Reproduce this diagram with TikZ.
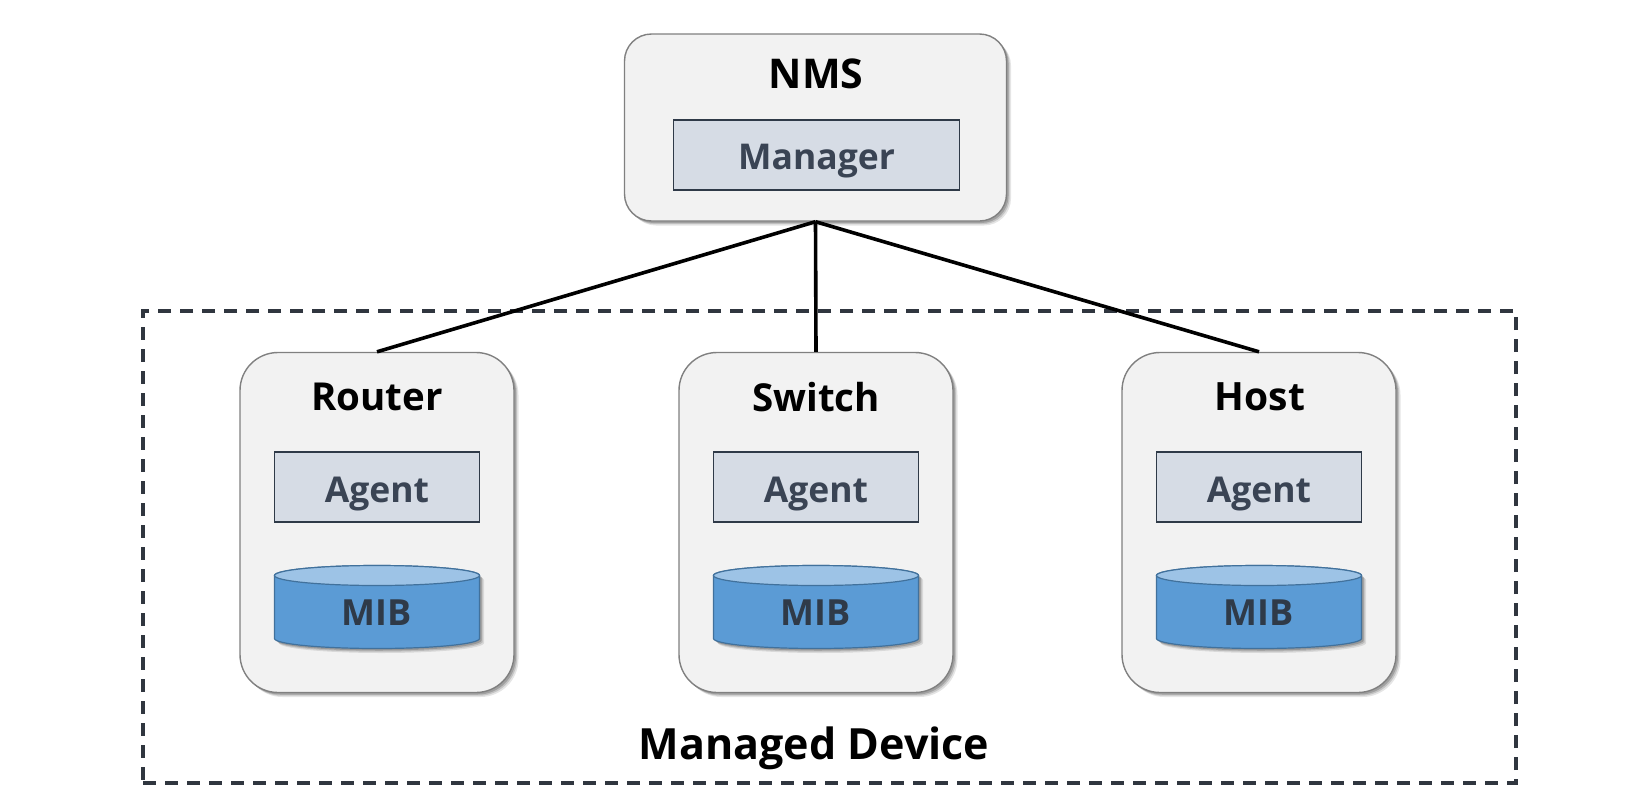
\documentclass[tikz,border=0pt]{standalone}
\usepackage{fontspec}
\setmainfont{Open Sans}
\usetikzlibrary{shapes.geometric}
\definecolor{panel}{HTML}{F2F2F2}
\definecolor{panelline}{HTML}{808080}
\definecolor{inner}{HTML}{D6DCE5}
\definecolor{navy}{HTML}{2F3A48}
\definecolor{framecol}{HTML}{30363F}
\definecolor{inktext}{HTML}{3A4454}
\definecolor{mibside}{HTML}{5B9BD5}
\definecolor{mibtop}{HTML}{9DC3E6}
\definecolor{mibline}{HTML}{41719C}
\tikzset{
  softshadow/.style={
    preaction={fill=black,fill opacity=.10,transform canvas={shift={(4.5pt,-4.5pt)}}},
    preaction={fill=black,fill opacity=.14,transform canvas={shift={(3.2pt,-3.2pt)}}},
    preaction={fill=black,fill opacity=.18,transform canvas={shift={(2pt,-2pt)}}}},
  panelbox/.style={draw=panelline,line width=1.4pt,fill=panel,softshadow,inner sep=0pt},
  nmsbox/.style={panelbox,rounded corners=27pt,minimum width=382pt,minimum height=187pt},
  devbox/.style={panelbox,rounded corners=38pt,minimum width=274pt,minimum height=340pt},
  rolebox/.style={draw=navy,line width=1.6pt,fill=inner,inner sep=0pt,minimum height=70pt},
  titletext/.style={font=\fontsize{38.5pt}{40pt}\selectfont\bfseries,text=black,inner sep=0pt},
  roletext/.style={font=\fontsize{35.5pt}{38pt}\selectfont\bfseries,text=inktext,inner sep=0pt},
  mibtext/.style={font=\fontsize{36pt}{38pt}\selectfont\bfseries,text=navy,inner sep=0pt},
  link/.style={draw=black,line width=3.6pt},
  devframe/.style={draw=framecol,line width=3.2pt,dash pattern=on 13pt off 9pt},
  mibbody/.style={draw=mibline,line width=1.2pt,fill=mibside,softshadow},
  mibcap/.style={draw=mibline,line width=1.2pt,fill=mibtop},
}
\newcommand{\mibdrum}[2]{%
  \path[mibbody] (#1-102.5,575.5) -- (#1-102.5,638.5) arc[start angle=180,end angle=0,x radius=102.5,y radius=10] -- (#1+102.5,575.5) arc[start angle=0,end angle=-180,x radius=102.5,y radius=10] -- cycle;
  \path[mibcap] (#1,575.5) ellipse[x radius=102.5,y radius=10];
  \node[mibtext] (#2) at (#1,613) {MIB};
}
\begin{document}
\begin{tikzpicture}[x=1pt,y=-1pt]
\useasboundingbox (0,0) rectangle (1630,798);
\fill[white] (0,0) rectangle (1630,798);
\node[devframe,draw,inner sep=0pt,minimum width=1373pt,minimum height=472pt] (frame) at (829.5,547) {};
\node[nmsbox] (nms) at (815.5,127.5) {};
\node[titletext,font=\fontsize{41pt}{44pt}\selectfont\bfseries] (nmstitle) at (816,74) {NMS};
\node[rolebox,minimum width=286pt] (manager) at (816.5,155) {};
\node[roletext] at (816.5,161) (managertext) {Manager};
\node[devbox] (router) at (377,522.5) {};
\node[devbox] (switch) at (816,522.5) {};
\node[devbox] (host) at (1259,522.5) {};
\node[titletext] (routertitle) at (377,397) {Router};
\node[titletext] (switchtitle) at (816,397) {Switch};
\node[titletext,font=\fontsize{39pt}{42pt}\selectfont\bfseries] (hosttitle) at (1260,397) {Host};
\node[rolebox,minimum width=205pt] (agentr) at (377,487) {};
\node[rolebox,minimum width=205pt] (agents) at (816,487) {};
\node[rolebox,minimum width=205pt] (agenth) at (1259,487) {};
\node[roletext] (agentrtext) at (377,494) {Agent};
\node[roletext] (agentstext) at (816,494) {Agent};
\node[roletext] (agenthtext) at (1259,494) {Agent};
\mibdrum{377}{mibr}
\mibdrum{816}{mibs}
\mibdrum{1259}{mibh}
\node[titletext,font=\fontsize{43pt}{46pt}\selectfont\bfseries] (frametitle) at (814,748) {Managed Device};
\draw[link] (nms.south) -- (router.north);
\draw[link] (nms.south) -- (switch.north);
\draw[link] (nms.south) -- (host.north);
\end{tikzpicture}
\end{document}
